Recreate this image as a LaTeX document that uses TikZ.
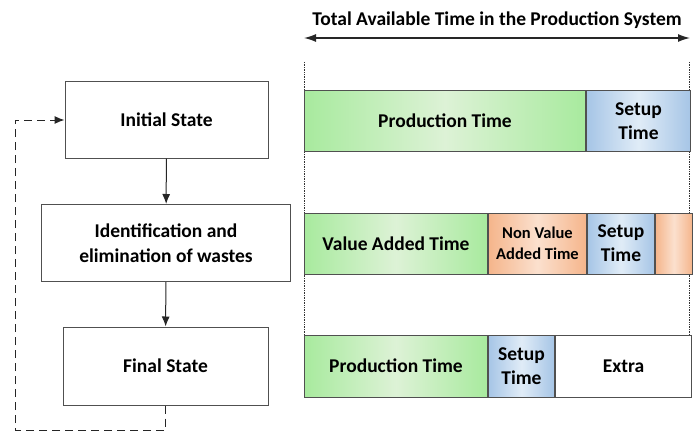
\documentclass[tikz,border=0pt]{standalone}
\usepackage{fontspec}
\setmainfont{Carlito}
\usetikzlibrary{arrows.meta}
\definecolor{edge}{HTML}{505050}
\definecolor{grA}{HTML}{A8EA9E}
\definecolor{grB}{HTML}{DDF2D6}
\definecolor{blA}{HTML}{A6C5E6}
\definecolor{blB}{HTML}{E0ECF7}
\definecolor{orA}{HTML}{F5B58B}
\definecolor{orB}{HTML}{FBE0CE}
\tikzset{
  bigfont/.style={font=\bfseries\fontsize{19.5}{24}\selectfont},
  flowbox/.style={draw=edge, line width=1pt, fill=white, inner sep=2pt,
    align=center, bigfont},
  seg/.style={draw=edge, line width=1pt, anchor=west, inner sep=1pt,
    align=center, bigfont},
  green seg/.style={seg, shading angle=60, left color=grA, right color=grA, middle color=grB},
  blue seg/.style={seg, shading angle=60, left color=blA, right color=blA, middle color=blB},
  orange seg/.style={seg, shading angle=60, left color=orA, right color=orA, middle color=orB},
  white seg/.style={seg, fill=white},
  flow/.style={-{Latex[length=10pt,width=8pt]}, line width=1pt, black!85},
  guide/.style={densely dotted, line width=0.7pt, black!80},
}
\begin{document}
\begin{tikzpicture}[x=1pt, y=-1pt]
\useasboundingbox (0,0) rectangle (695,433);

% title and span arrow
\node[bigfont, inner sep=0pt] (title) at (497,20) {Total Available Time in the Production System};
\coordinate (spanL) at (304,38);
\coordinate (spanR) at (690,38);
\draw[{Latex[length=12pt,width=8pt]}-{Latex[length=12pt,width=8pt]}, line width=1.3pt, black!85] (spanL) -- (spanR);

% dotted guides bounding the time bars
\coordinate (gLt) at (304,62);
\coordinate (gLb) at (304,336);
\coordinate (gRt) at (689,62);
\coordinate (gRb) at (689,336);
\draw[guide] (gLt) -- (gLb);
\draw[guide] (gRt) -- (gRb);

% process flow
\node[flowbox, minimum width=203pt, minimum height=76pt] (init) at (166.5,120) {Initial State};
\node[flowbox, minimum width=249pt, minimum height=77pt, font=\bfseries\fontsize{19.5}{25}\selectfont] (ident) at (166,243) {Identification and\\elimination of wastes};
\node[flowbox, minimum width=205pt, minimum height=78pt] (fin) at (165.5,366) {Final State};
\draw[flow] (init) -- (ident);
\draw[flow] (ident) -- (fin);
\coordinate (loop) at (15,430);
\draw[flow, dash pattern=on 8pt off 5pt] (fin.south) |- (loop) |- (init.west);

% bar 1: initial state
\node[green seg, minimum width=281pt, minimum height=61pt] (b1p) at (304,121) {Production Time};
\node[blue seg, minimum width=104pt, minimum height=61pt] (b1s) at (b1p.east) {Setup\\Time};

% bar 2: with wastes
\node[green seg, minimum width=183pt, minimum height=61pt] (b2v) at (304,243.5) {Value Added Time};
\node[orange seg, minimum width=98pt, minimum height=61pt, font=\bfseries\fontsize{16.5}{21}\selectfont] (b2n) at (b2v.east) {Non Value\\Added Time};
\node[blue seg, minimum width=67pt, minimum height=61pt] (b2s) at (b2n.east) {Setup\\Time};
\node[orange seg, minimum width=37pt, minimum height=61pt] (b2o) at (b2s.east) {};

% bar 3: final state
\node[green seg, minimum width=183pt, minimum height=62pt] (b3p) at (304,366) {Production Time};
\node[blue seg, minimum width=66pt, minimum height=62pt] (b3s) at (b3p.east) {Setup\\Time};
\node[white seg, minimum width=136pt, minimum height=62pt] (b3e) at (b3s.east) {Extra};
\end{tikzpicture}
\end{document}
